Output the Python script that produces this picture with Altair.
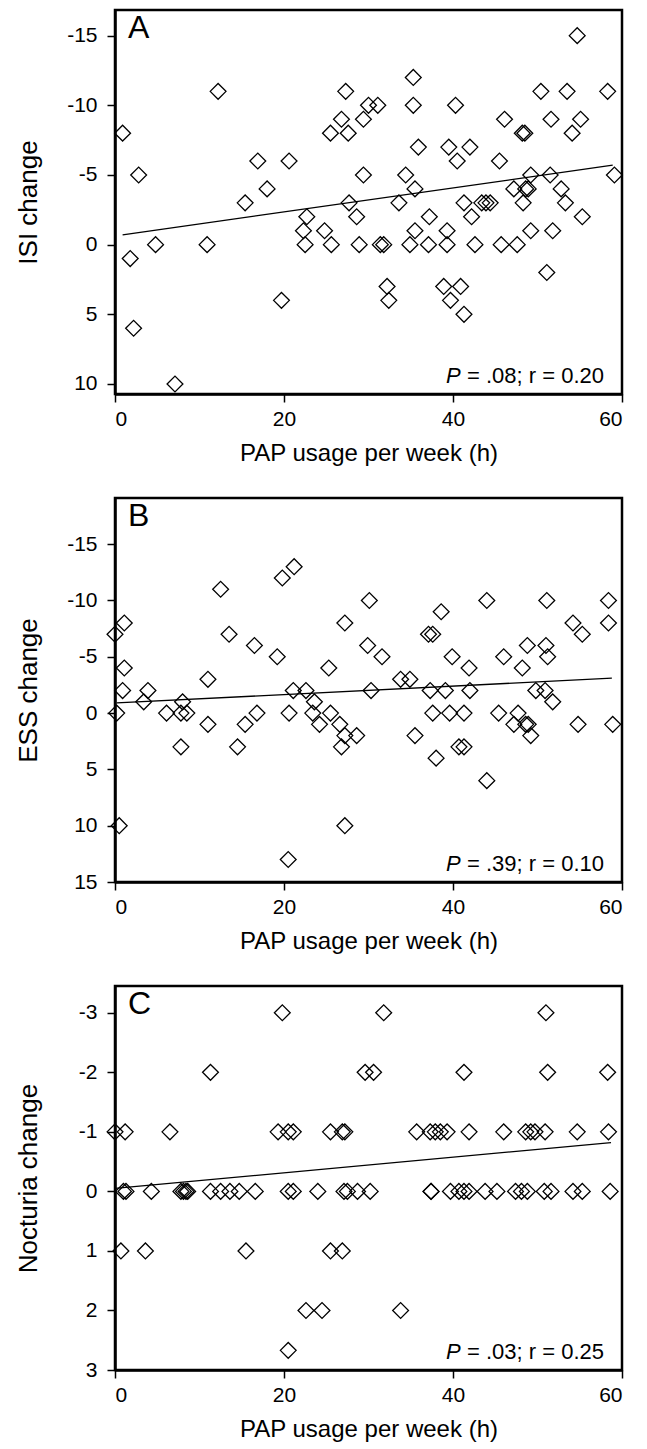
import altair as alt
import pandas as pd

FONT = "Liberation Sans"

# Panel A: ISI change
a_x = [0.9, 2.8, 1.8, 2.2, 4.8, 7.1, 10.9, 12.2, 15.4, 16.9, 18.0, 19.7, 20.6, 22.7, 22.3,
       22.5, 24.8, 25.6, 25.5, 26.8, 27.3, 27.6, 27.7, 28.6, 28.9, 29.4, 29.4, 30.0, 31.1, 31.4,
       31.8, 32.2, 32.4, 35.3, 35.3, 35.9, 34.4, 35.5, 33.6, 34.9, 35.5, 37.1, 37.2, 39.3, 39.3,
       38.9, 39.7, 40.9, 41.3, 40.3, 39.5, 40.5, 42.0, 41.3, 42.2, 42.6, 43.4, 43.9, 44.4, 45.7,
       45.5, 46.1, 47.2, 47.6, 48.3, 48.2, 48.5, 48.6, 48.9, 49.2, 49.2, 50.4, 51.1, 51.5, 51.6,
       51.8, 52.8, 53.3, 53.5, 54.1, 55.1, 54.7, 55.3, 58.3, 59.1]
a_y = [-8, -5, 1, 6, 0, 10, 0, -11, -3, -6, -4, 4, -6, -2, -1,
       0, -1, 0, -8, -9, -11, -8, -3, -2, 0, -9, -5, -10, -10, 0,
       0, 3, 4, -12, -10, -7, -5, -4, -3, 0, -1, 0, -2, -1, 0,
       3, 4, 3, 5, -10, -7, -6, -7, -3, -2, 0, -3, -3, -3, 0,
       -6, -9, -4, 0, -3, -8, -8, -4, -4, -5, -1, -11, 2, -5, -9,
       -1, -4, -3, -11, -8, -9, -15, -2, -11, -5]
a_fit_x = [0.9, 58.9]
a_fit_y = [-0.7, -5.7]

# Panel B: ESS change
b_x = [0.0, 1.1, 1.1, 0.9, 0.2, 0.5, 3.4, 3.9, 6.1, 7.8, 8.0, 8.5, 7.8, 11.0, 11.0,
       12.5, 13.5, 14.5, 15.4, 16.5, 16.8, 19.2, 19.8, 21.2, 20.6, 20.5, 21.1, 22.6, 23.6, 23.4,
       24.2, 25.3, 25.5, 26.6, 27.2, 27.2, 26.8, 28.6, 27.2, 30.1, 29.9, 30.3, 31.6, 33.8, 34.9,
       35.5, 38.6, 37.1, 37.6, 37.3, 37.6, 38.0, 39.1, 39.6, 39.9, 40.7, 41.3, 41.3, 41.9, 42.0,
       44.0, 44.0, 45.4, 46.0, 47.7, 48.2, 47.2, 48.6, 48.9, 49.2, 48.8, 49.8, 50.9, 51.0, 51.2,
       51.1, 51.8, 54.2, 55.3, 54.8, 58.4, 58.4, 58.9]
b_y = [-7, -8, -4, -2, 0, 10, -1, -2, 0, 0, -1, 0, 3, -3, 1,
       -11, -7, 3, 1, -6, 0, -5, -12, -13, 0, 13, -2, -2, -1, 0,
       1, -4, 0, 1, -8, 2, 3, 2, 10, -10, -6, -2, -5, -3, -3,
       2, -9, -7, -7, -2, 0, 4, -2, 0, -5, 3, 3, 0, -4, -2,
       -10, 6, 0, -5, 0, -4, 1, 1, 1, 2, -6, -2, -2, -6, -5,
       -10, -1, -8, -7, 1, -10, -8, 1]
b_fit_x = [0.2, 58.8]
b_fit_y = [-0.9, -3.1]

# Panel C: Nocturia change
c_x = [19.8, 31.8, 51.0,
       11.3, 29.6, 30.6, 41.3, 51.2, 58.3,
       0.0, 1.2, 6.5, 19.3, 20.5, 21.1, 25.5, 26.9, 27.2, 35.7, 37.3, 37.9, 38.5, 39.3, 41.9,
       46.0, 48.6, 49.2, 49.7, 50.9, 54.7, 58.4,
       1.0, 1.3, 4.3, 7.8, 8.1, 8.4, 8.6, 11.3, 12.5, 13.6, 14.7, 16.6, 20.5, 21.1, 24.0, 27.1,
       27.5, 28.7, 30.2, 37.4, 37.4, 39.7, 40.7, 41.3, 41.9, 43.8, 45.2, 47.4, 48.1, 48.8, 50.8,
       51.6, 54.2, 55.3, 58.6,
       0.7, 3.6, 15.5, 25.5, 26.9,
       22.6, 24.5, 33.8,
       20.5]
c_y = [-3, -3, -3,
       -2, -2, -2, -2, -2, -2,
       -1, -1, -1, -1, -1, -1, -1, -1, -1, -1, -1, -1, -1, -1, -1,
       -1, -1, -1, -1, -1, -1, -1,
       0, 0, 0, 0, 0, 0, 0, 0, 0, 0, 0, 0, 0, 0, 0, 0,
       0, 0, 0, 0, 0, 0, 0, 0, 0, 0, 0, 0, 0, 0, 0,
       0, 0, 0, 0,
       1, 1, 1, 1, 1,
       2, 2, 2,
       2.67]
c_fit_x = [0.0, 58.7]
c_fit_y = [-0.05, -0.82]

x_ticks = [0, 20, 40, 60]
x_title = "PAP usage per week (h)"

W, H = 507, 384


def panel(xs, ys, fx, fy, ydomain, yticks, ytitle, letter, pstat):
    df = pd.DataFrame({"x": xs, "y": ys})
    fit = pd.DataFrame({"x": fx, "y": fy})
    xsc = alt.Scale(domain=[0, 60], nice=False, zero=False)
    ysc = alt.Scale(domain=ydomain, reverse=True, nice=False, zero=False)
    xax = alt.Axis(values=x_ticks, title=x_title, labelExpr="'' + datum.value",
                   labelPadding=6, titlePadding=12, titleFontSize=24)
    yax = alt.Axis(values=yticks, title=ytitle, labelExpr="'' + datum.value",
                   labelPadding=10, titleX=-74, titleFontSize=26)
    pts = alt.Chart(df).mark_point(shape="diamond", filled=False, color="black",
                                   size=250, strokeWidth=1.3, opacity=1).encode(
        x=alt.X("x:Q", scale=xsc, axis=xax),
        y=alt.Y("y:Q", scale=ysc, axis=yax),
    )
    line = alt.Chart(fit).mark_line(color="black", strokeWidth=1.3).encode(
        x=alt.X("x:Q", scale=xsc),
        y=alt.Y("y:Q", scale=ysc),
    )
    lab = alt.Chart(pd.DataFrame({"t": [letter]})).mark_text(
        font=FONT, fontSize=32, align="left", baseline="alphabetic", color="black"
    ).encode(x=alt.value(13), y=alt.value(28), text="t:N")
    p_it = alt.Chart(pd.DataFrame({"t": ["P"]})).mark_text(
        font=FONT, fontSize=22, fontStyle="italic", align="left", baseline="alphabetic", color="black"
    ).encode(x=alt.value(331), y=alt.value(373), text="t:N")
    p_rest = alt.Chart(pd.DataFrame({"t": [pstat]})).mark_text(
        font=FONT, fontSize=22, align="left", baseline="alphabetic", color="black"
    ).encode(x=alt.value(352), y=alt.value(373), text="t:N")
    return alt.layer(pts, line, lab, p_it, p_rest).properties(width=W, height=H)


pa = panel(a_x, a_y, a_fit_x, a_fit_y, [-16.84, 10.72], [-15, -10, -5, 0, 5, 10],
           "ISI change", "A", "= .08; r = 0.20")
pb = panel(b_x, b_y, b_fit_x, b_fit_y, [-19.1, 15], [-15, -10, -5, 0, 5, 10, 15],
           "ESS change", "B", "= .39; r = 0.10")
pc = panel(c_x, c_y, c_fit_x, c_fit_y, [-3.45, 3], [-3, -2, -1, 0, 1, 2, 3],
           "Nocturia change", "C", "= .03; r = 0.25")

chart = alt.vconcat(pa, pb, pc, spacing=29).properties(
    padding={"left": 5, "top": 0, "right": 5, "bottom": 5}
).configure(
    background="white"
).configure_view(
    stroke="black", strokeWidth=2.5
).configure_axis(
    grid=False, domainColor="black", domainWidth=2.5, tickColor="black", tickWidth=1.5,
    tickSize=8, labelColor="black", labelFont=FONT, labelFontSize=21, titleFont=FONT,
    titleFontSize=23, titleFontWeight="normal", titleColor="black"
)

chart.save("out.html", embed_options={"renderer": "svg", "actions": False})
